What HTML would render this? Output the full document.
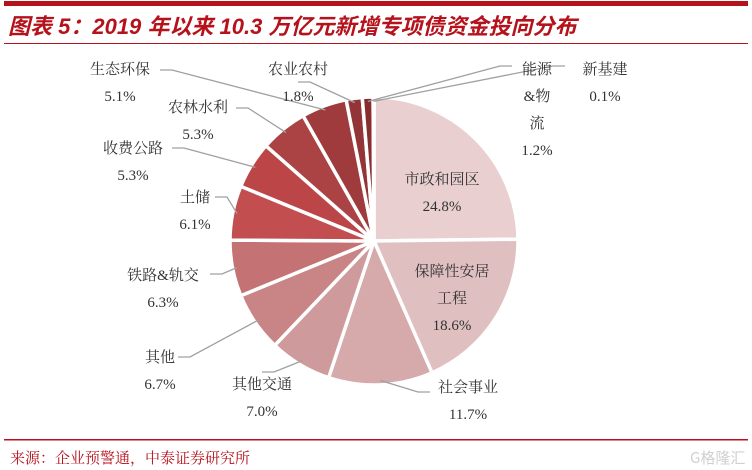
<!DOCTYPE html>
<html><head><meta charset="utf-8"><style>
body{margin:0;background:#fff;}
#wrap{position:relative;width:752px;height:470px;overflow:hidden;font-family:"Liberation Serif","Noto Serif CJK SC",serif;}
</style></head><body>
<div id="wrap">
<svg id="svg" width="752" height="470" xmlns="http://www.w3.org/2000/svg">
<rect x="4" y="1" width="744" height="5" fill="#b5121b"/>
<text x="8" y="34" font-family="Liberation Sans,'Noto Sans CJK SC',sans-serif" font-size="22" font-weight="bold" font-style="italic" fill="#b5121b">图表 5：2019 年以来 10.3 万亿元新增专项债资金投向分布</text>
<rect x="4" y="43" width="744" height="1" fill="#b5121b"/>
<rect x="4" y="439" width="744" height="1.5" fill="#b5121b"/>
<text x="10" y="463" font-size="15" fill="#b5121b" font-family="'Noto Serif CJK SC',serif">来源：企业预警通，中泰证券研究所</text>
<text x="690" y="463" font-size="15" fill="#d0d0d0" font-family="'Noto Sans CJK SC',sans-serif">G格隆汇</text>
<g id="slices"></g>
<g id="leaders"></g>
<g id="labels" font-size="15" fill="#333" text-anchor="middle" font-family="'Liberation Serif','Noto Serif CJK SC',serif"></g>
</svg>
</div>
<script>
const categories=["市政和园区","保障性安居工程","社会事业","其他交通","其他","铁路&轨交","土储","收费公路","农林水利","生态环保","农业农村","能源&物流","新基建"];
const values=[24.8,18.6,11.7,7.0,6.7,6.3,6.1,5.3,5.3,5.1,1.8,1.2,0.1];
const valueLabels=["24.8%","18.6%","11.7%","7.0%","6.7%","6.3%","6.1%","5.3%","5.3%","5.1%","1.8%","1.2%","0.1%"];
const colors=["#e9cfd0","#e0bfc0","#d6a9aa","#cf9a9b","#c98586","#c47274","#c24e50","#bb4547","#ab4244","#9f3b3c","#933536","#882c2d","#7a2324"];
// label layout: [lines, x, y(first line baseline), anchor point for leader]
const layout=[
 {lines:["市政和园区"],x:442,y:184,inside:true},
 {lines:["保障性安居","工程"],x:452,y:276,inside:true},
 {lines:["社会事业"],x:468,y:392,lx:430,ly:392},
 {lines:["其他交通"],x:262,y:389,lx:262,ly:372},
 {lines:["其他"],x:160,y:362,lx:178,ly:357},
 {lines:["铁路&轨交"],x:163,y:280,lx:210,ly:274},
 {lines:["土储"],x:195,y:202,lx:215,ly:197},
 {lines:["收费公路"],x:133,y:153,lx:172,ly:148},
 {lines:["农林水利"],x:198,y:112,lx:236,ly:108},
 {lines:["生态环保"],x:120,y:74,lx:160,ly:70},
 {lines:["农业农村"],x:298,y:74,lx:298,ly:82},
 {lines:["能源","&物","流"],x:537,y:74,lx:512,ly:66},
 {lines:["新基建"],x:605,y:74,lx:565,ly:66}
];
const cx=374,cy=241,R=144;
const total=values.reduce((a,b)=>a+b,0);
const NS="http://www.w3.org/2000/svg";
function pt(a,r){return [cx+r*Math.sin(a),cy-r*Math.cos(a)];}
const gS=document.getElementById('slices'),gL=document.getElementById('leaders'),gT=document.getElementById('labels');
let acc=0;
values.forEach((v,i)=>{
 const a0=acc/total*2*Math.PI, a1=(acc+v)/total*2*Math.PI; acc+=v;
 const p0=pt(a0,R),p1=pt(a1,R);
 const large=(a1-a0)>Math.PI?1:0;
 const path=document.createElementNS(NS,'path');
 path.setAttribute('d',`M${cx},${cy}L${p0[0]},${p0[1]}A${R},${R} 0 ${large} 1 ${p1[0]},${p1[1]}Z`);
 path.setAttribute('fill',colors[i]);path.setAttribute('stroke','#fff');path.setAttribute('stroke-width','3.5');
 
 
 gS.appendChild(path);
 const L=layout[i];const am=(a0+a1)/2;
 if(!L.inside){
  const e=pt(am,R*0.97);
  const ln=document.createElementNS(NS,'polyline');
  ln.setAttribute('points',`${L.lx},${L.ly} ${L.lx+(e[0]>L.lx?12:-12)},${L.ly} ${e[0]},${e[1]}`);
  ln.setAttribute('fill','none');ln.setAttribute('stroke','#a0a0a0');ln.setAttribute('stroke-width','1.3');
  
  
  gL.appendChild(ln);
 }
 const lines=L.lines.concat([valueLabels[i]]);
 lines.forEach((s,k)=>{
  const t=document.createElementNS(NS,'text');
  t.setAttribute('x',L.x);t.setAttribute('y',L.y+k*27);t.textContent=s;
  
  
  gT.appendChild(t);
 });
});
</script>
</body></html>
